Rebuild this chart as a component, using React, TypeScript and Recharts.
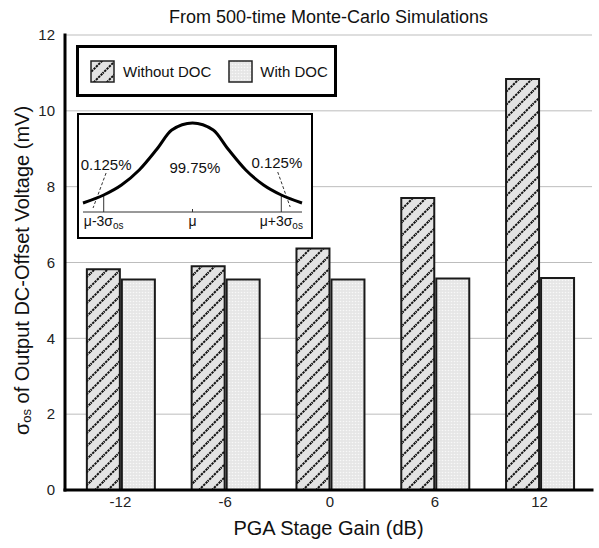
import {
  BarChart,
  Bar,
  XAxis,
  YAxis,
  CartesianGrid,
  Legend,
  LineChart,
  Line,
  ReferenceLine,
  ReferenceDot
} from 'recharts';

const gains = ['-12', '-6', '0', '6', '12'];
const withoutDoc = [5.82, 5.9, 6.37, 7.7, 10.84];
const withDoc = [5.55, 5.55, 5.55, 5.58, 5.59];
const yTicks = [0, 2, 4, 6, 8, 10, 12];

// bell curve of the inset, x in units of sigma
const curveX = [-3.7, -3, -2.4, -1.8, -1.2, -0.7, 0, 0.7, 1.2, 1.8, 2.4, 3, 3.7];
const curveY = [9, 17, 27, 42, 63, 82, 89, 82, 63, 42, 27, 17, 9];
const sigmaTicks = [-3, 0, 3];

const font = '"Liberation Sans", Arial, sans-serif';

const data = gains.map((g, i) => ({ gain: g, without: withoutDoc[i], with: withDoc[i] }));
const curve = curveX.map((s, i) => ({ s, h: curveY[i] }));

const frame = { stroke: '#000', strokeWidth: 3, strokeLinecap: 'square' as const };

function PatternDefs({ prefix }: { prefix: string }) {
  return (
    <defs>
      <pattern id={`${prefix}-hatch`} patternUnits="userSpaceOnUse" width={13} height={13}>
        <rect width={13} height={13} fill="#e3e3e3" />
        <path
          d="M-1,14 L14,-1 M-3,3 L3,-3 M10,16 L16,10"
          stroke="#111"
          strokeWidth={2}
          strokeDasharray="2.4 0.9"
        />
      </pattern>
      <pattern id={`${prefix}-dots`} patternUnits="userSpaceOnUse" width={3} height={3}>
        <rect width={3} height={3} fill="#e6e6e6" />
        <circle cx={1.5} cy={1.5} r={0.8} fill="#f8f8f8" />
      </pattern>
    </defs>
  );
}

function Swatch({ kind }: { kind: string }) {
  return (
    <svg width={25} height={23} style={{ display: 'block' }}>
      <PatternDefs prefix="lg" />
      <rect x={1} y={1} width={23} height={21} fill={`url(#lg-${kind})`} stroke="#222" strokeWidth={1.5} />
    </svg>
  );
}

function LegendBox() {
  return (
    <div
      style={{
        display: 'flex',
        alignItems: 'center',
        boxSizing: 'border-box',
        width: 261,
        height: 52,
        border: '3px solid #000',
        background: '#fff',
        paddingLeft: 11,
        fontFamily: font,
        fontSize: 15,
        color: '#111'
      }}
    >
      <Swatch kind="hatch" />
      <span style={{ marginLeft: 8 }}>Without DOC</span>
      <span style={{ marginLeft: 17 }}>
        <Swatch kind="dots" />
      </span>
      <span style={{ marginLeft: 7 }}>With DOC</span>
    </div>
  );
}

function YTitle(props: any) {
  const vb = props.viewBox || { x: 0, y: 35, width: 65, height: 455 };
  const cx = 22;
  const cy = vb.y + vb.height / 2 + 8;
  return (
    <text
      x={cx}
      y={cy}
      transform={`rotate(-90, ${cx}, ${cy})`}
      textAnchor="middle"
      dominantBaseline="central"
      fontSize={20}
      fill="#111"
      fontFamily={font}
    >
      σ
      <tspan fontSize={13} dy={4}>os</tspan>
      <tspan dy={-4}> of Output DC-Offset Voltage (mV)</tspan>
    </text>
  );
}

function SigmaTick(props: any) {
  const { x, y, payload } = props;
  const v = payload.value;
  if (v === 0) {
    return (
      <text x={x} y={y} dy={12} textAnchor="middle" fontSize={14} fill="#111" fontFamily={font}>
        μ
      </text>
    );
  }
  return (
    <text x={x} y={y} dy={12} textAnchor="middle" fontSize={14} fill="#111" fontFamily={font}>
      {v < 0 ? 'μ-3σ' : 'μ+3σ'}
      <tspan fontSize={10} dy={3}>os</tspan>
    </text>
  );
}

const pctLabel = { position: 'center' as const, fontSize: 15, fill: '#111', fontFamily: font };

function Inset() {
  return (
    <div
      style={{
        position: 'absolute',
        left: 77,
        top: 113,
        width: 236,
        height: 126,
        boxSizing: 'border-box',
        border: '2px solid #000',
        background: '#fff'
      }}
    >
      <LineChart width={232} height={122} data={curve} margin={{ top: 8, right: 9, bottom: 0, left: 4 }}>
        <XAxis
          dataKey="s"
          type="number"
          domain={[-3.7, 3.7]}
          ticks={sigmaTicks}
          tick={<SigmaTick />}
          tickLine={false}
          tickSize={0}
          height={25}
          axisLine={{ stroke: '#333', strokeWidth: 1 }}
        />
        <YAxis hide domain={[0, 89]} />
        <ReferenceLine segment={[{ x: -3, y: 0 }, { x: -3, y: 17 }]} stroke="#333" strokeWidth={1} />
        <ReferenceLine segment={[{ x: 3, y: 0 }, { x: 3, y: 17 }]} stroke="#333" strokeWidth={1} />
        <ReferenceLine segment={[{ x: 0, y: 0 }, { x: 0, y: 3 }]} stroke="#333" strokeWidth={1} />
        <ReferenceLine
          segment={[{ x: -2.92, y: 39 }, { x: -3.36, y: 4 }]}
          stroke="#333"
          strokeWidth={1}
          strokeDasharray="3 2"
        />
        <ReferenceLine
          segment={[{ x: 2.88, y: 40 }, { x: 3.3, y: 5 }]}
          stroke="#333"
          strokeWidth={1}
          strokeDasharray="3 2"
        />
        <Line
          dataKey="h"
          type="monotone"
          stroke="#000"
          strokeWidth={3}
          dot={false}
          isAnimationActive={false}
        />
        <ReferenceDot x={-2.92} y={47} r={0} stroke="none" fill="none" label={{ value: '0.125%', ...pctLabel }} />
        <ReferenceDot x={0.08} y={44} r={0} stroke="none" fill="none" label={{ value: '99.75%', ...pctLabel }} />
        <ReferenceDot x={2.85} y={49} r={0} stroke="none" fill="none" label={{ value: '0.125%', ...pctLabel }} />
      </LineChart>
    </div>
  );
}

export default function App() {
  return (
    <div
      style={{
        position: 'absolute',
        left: 0,
        top: 0,
        width: 599,
        height: 548,
        background: '#fff',
        fontFamily: font
      }}
    >
      <div
        style={{
          position: 'absolute',
          left: 65,
          top: 6,
          width: 527,
          textAlign: 'center',
          fontSize: 18,
          lineHeight: '22px',
          color: '#111'
        }}
      >
        From 500-time Monte-Carlo Simulations
      </div>
      <BarChart
        width={599}
        height={548}
        data={data}
        margin={{ top: 35, right: 7, bottom: 0, left: 0 }}
        barCategoryGap="18%"
        barGap={2}
      >
        <PatternDefs prefix="bar" />
        <CartesianGrid horizontal vertical={false} stroke="#bdbdbd" strokeWidth={1} />
        <XAxis
          dataKey="gain"
          height={58}
          padding={{ left: 3, right: 0 }}
          tickLine={false}
          tickSize={0}
          tickMargin={6}
          axisLine={frame}
          tick={{ fontSize: 15, fill: '#222', fontFamily: font }}
          label={{
            value: 'PGA Stage Gain (dB)',
            position: 'insideBottom',
            offset: 13,
            fontSize: 20,
            fill: '#111',
            fontFamily: font
          }}
        />
        <XAxis xAxisId="top" dataKey="gain" orientation="top" height={0} tick={false} tickLine={false} axisLine={frame} />
        <YAxis
          domain={[0, 12]}
          ticks={yTicks}
          width={65}
          tickLine={false}
          tickSize={0}
          tickMargin={10}
          axisLine={frame}
          tick={{ fontSize: 15, fill: '#222', fontFamily: font }}
          label={<YTitle />}
        />
        <YAxis yAxisId="right" orientation="right" domain={[0, 12]} width={0} tick={false} tickLine={false} axisLine={frame} />
        <Legend
          layout="horizontal"
          verticalAlign="middle"
          align="center"
          content={<LegendBox />}
          wrapperStyle={{ left: 76, top: 45, width: 'auto', height: 'auto' }}
        />
        <Bar
          dataKey="without"
          name="Without DOC"
          fill="url(#bar-hatch)"
          stroke="#1a1a1a"
          strokeWidth={2}
          isAnimationActive={false}
        />
        <Bar
          dataKey="with"
          name="With DOC"
          fill="url(#bar-dots)"
          stroke="#1a1a1a"
          strokeWidth={2}
          isAnimationActive={false}
        />
      </BarChart>
      <Inset />
    </div>
  );
}
